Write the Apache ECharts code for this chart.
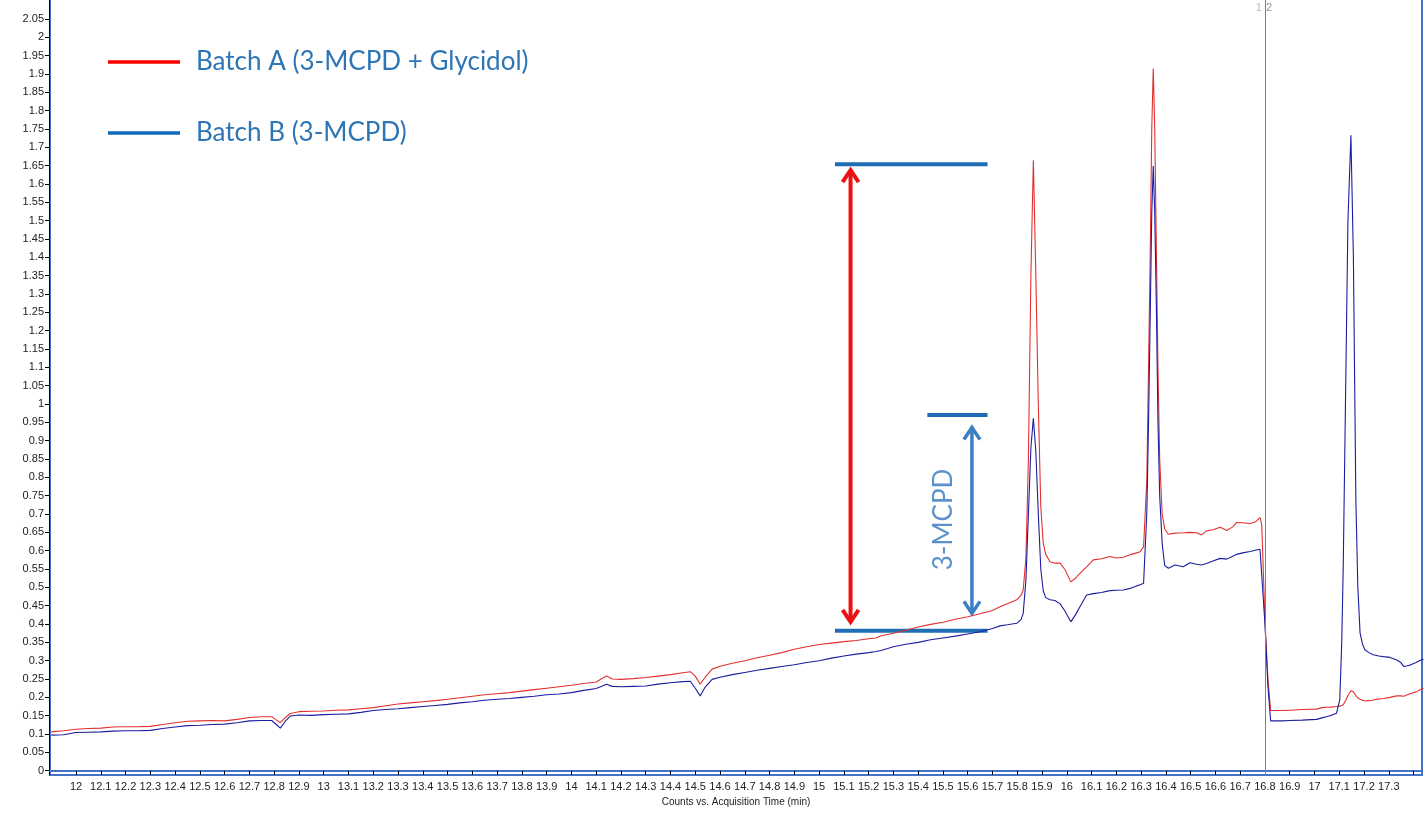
<!DOCTYPE html>
<html><head><meta charset="utf-8">
<script src="https://cdn.jsdelivr.net/npm/echarts@6/dist/echarts.min.js"></script>
<style>html,body{margin:0;padding:0;background:#fff}#c{width:1426px;height:830px}</style>
</head><body><div id="c"></div>
<script>
// acquisition time (min)
const times = [
  11.9, 11.95, 12.0, 12.05, 12.1, 12.15, 12.2, 12.25, 12.3, 12.35,
  12.4, 12.45, 12.5, 12.55, 12.6, 12.65, 12.7, 12.75, 12.79, 12.805,
  12.825, 12.845, 12.865, 12.9, 12.95, 13.0, 13.05, 13.1, 13.15, 13.2,
  13.25, 13.3, 13.35, 13.4, 13.45, 13.5, 13.55, 13.6, 13.65, 13.7,
  13.75, 13.8, 13.85, 13.9, 13.95, 14.0, 14.05, 14.1, 14.125, 14.142,
  14.165, 14.2, 14.25, 14.3, 14.35, 14.4, 14.45, 14.48, 14.5, 14.52,
  14.54, 14.568, 14.6, 14.65, 14.7, 14.75, 14.8, 14.85, 14.9, 14.95,
  15.0, 15.05, 15.1, 15.15, 15.2, 15.23, 15.25, 15.3, 15.35, 15.4,
  15.45, 15.5, 15.55, 15.6, 15.65, 15.7, 15.73, 15.76, 15.798, 15.815,
  15.824, 15.835, 15.845, 15.855, 15.865, 15.875, 15.885, 15.895, 15.905, 15.915,
  15.932, 15.952, 15.973, 15.993, 16.016, 16.035, 16.053, 16.08, 16.107, 16.14,
  16.174, 16.2, 16.228, 16.26, 16.282, 16.296, 16.31, 16.323, 16.33, 16.337,
  16.343, 16.349, 16.355, 16.362, 16.368, 16.375, 16.385, 16.395, 16.41, 16.437,
  16.47, 16.497, 16.524, 16.544, 16.564, 16.59, 16.619, 16.646, 16.67, 16.686,
  16.71, 16.74, 16.76, 16.78, 16.787, 16.8, 16.812, 16.823, 16.85, 16.874,
  16.9, 16.95, 17.008, 17.03, 17.048, 17.062, 17.075, 17.089, 17.102, 17.11,
  17.116, 17.125, 17.135, 17.147, 17.157, 17.167, 17.175, 17.184, 17.194, 17.204,
  17.22, 17.237, 17.26, 17.278, 17.305, 17.332, 17.347, 17.361, 17.375, 17.386,
  17.41, 17.43, 17.44
];
// Batch A (3-MCPD + Glycidol)
const batchA = [
  0.106, 0.109, 0.113, 0.115, 0.116, 0.119, 0.120, 0.120, 0.121, 0.126,
  0.131, 0.135, 0.136, 0.137, 0.136, 0.140, 0.145, 0.147, 0.147, 0.140,
  0.131, 0.145, 0.156, 0.161, 0.162, 0.163, 0.165, 0.166, 0.169, 0.172,
  0.177, 0.182, 0.185, 0.188, 0.191, 0.195, 0.199, 0.203, 0.207, 0.210,
  0.213, 0.217, 0.221, 0.225, 0.229, 0.233, 0.238, 0.242, 0.252, 0.258,
  0.250, 0.249, 0.251, 0.254, 0.258, 0.262, 0.267, 0.270, 0.258, 0.236,
  0.255, 0.277, 0.285, 0.293, 0.300, 0.308, 0.315, 0.322, 0.331, 0.338,
  0.344, 0.348, 0.352, 0.355, 0.360, 0.362, 0.368, 0.375, 0.383, 0.392,
  0.399, 0.405, 0.413, 0.420, 0.428, 0.437, 0.447, 0.455, 0.466, 0.478,
  0.493, 0.58, 0.85, 1.35, 1.665, 1.35, 1.0, 0.72, 0.62, 0.59,
  0.570, 0.566, 0.566, 0.548, 0.515, 0.525, 0.538, 0.556, 0.575, 0.578,
  0.584, 0.580, 0.582, 0.590, 0.594, 0.597, 0.611, 0.793, 1.1, 1.42,
  1.75, 1.915, 1.75, 1.40, 1.1, 0.85, 0.70, 0.66, 0.645, 0.648,
  0.649, 0.650, 0.649, 0.643, 0.654, 0.657, 0.664, 0.655, 0.665, 0.677,
  0.676, 0.674, 0.678, 0.690, 0.672, 0.41, 0.25, 0.164, 0.164, 0.164,
  0.165, 0.167, 0.168, 0.172, 0.173, 0.173, 0.174, 0.175, 0.176, 0.178,
  0.180, 0.190, 0.205, 0.218, 0.215, 0.205, 0.198, 0.195, 0.192, 0.190,
  0.191, 0.193, 0.196, 0.197, 0.200, 0.204, 0.204, 0.203, 0.207, 0.210,
  0.215, 0.222, 0.224
];
// Batch B (3-MCPD)
const batchB = [
  0.097, 0.098, 0.104, 0.105, 0.106, 0.108, 0.109, 0.109, 0.110, 0.115,
  0.119, 0.123, 0.124, 0.126, 0.127, 0.131, 0.136, 0.137, 0.137, 0.128,
  0.116, 0.135, 0.149, 0.152, 0.151, 0.153, 0.154, 0.155, 0.159, 0.164,
  0.167, 0.169, 0.172, 0.175, 0.178, 0.181, 0.185, 0.188, 0.192, 0.195,
  0.197, 0.200, 0.203, 0.207, 0.209, 0.213, 0.219, 0.224, 0.231, 0.236,
  0.230, 0.229, 0.230, 0.231, 0.236, 0.240, 0.243, 0.244, 0.225, 0.204,
  0.228, 0.249, 0.255, 0.262, 0.268, 0.274, 0.279, 0.284, 0.289, 0.295,
  0.300, 0.307, 0.313, 0.318, 0.322, 0.325, 0.328, 0.338, 0.345, 0.350,
  0.357, 0.362, 0.367, 0.373, 0.379, 0.388, 0.395, 0.398, 0.402, 0.412,
  0.429, 0.52, 0.70, 0.88, 0.961, 0.87, 0.70, 0.55, 0.49, 0.472,
  0.466, 0.464, 0.455, 0.435, 0.406, 0.425, 0.447, 0.479, 0.483, 0.486,
  0.491, 0.492, 0.493, 0.498, 0.504, 0.507, 0.511, 0.702, 0.95, 1.25,
  1.52, 1.649, 1.52, 1.25, 0.95, 0.75, 0.62, 0.56, 0.552, 0.561,
  0.556, 0.567, 0.563, 0.561, 0.565, 0.572, 0.579, 0.577, 0.585, 0.590,
  0.594, 0.598, 0.601, 0.604, 0.600, 0.40, 0.23, 0.136, 0.136, 0.136,
  0.137, 0.138, 0.140, 0.144, 0.147, 0.150, 0.153, 0.157, 0.193, 0.35,
  0.556, 1.0, 1.5, 1.733, 1.4, 0.738, 0.50, 0.375, 0.345, 0.329,
  0.322, 0.316, 0.313, 0.311, 0.309, 0.302, 0.296, 0.284, 0.286, 0.288,
  0.295, 0.302, 0.304
];
// tick values
const yTicks = [0, 0.05, 0.1, 0.15, 0.2, 0.25, 0.3, 0.35, 0.4, 0.45, 0.5, 0.55, 0.6, 0.65, 0.7, 0.75, 0.8, 0.85, 0.9, 0.95,
  1, 1.05, 1.1, 1.15, 1.2, 1.25, 1.3, 1.35, 1.4, 1.45, 1.5, 1.55, 1.6, 1.65, 1.7, 1.75, 1.8, 1.85, 1.9, 1.95, 2, 2.05];
const xLabelTicks = [12, 12.1, 12.2, 12.3, 12.4, 12.5, 12.6, 12.7, 12.8, 12.9, 13, 13.1, 13.2, 13.3, 13.4, 13.5, 13.6, 13.7, 13.8, 13.9,
  14, 14.1, 14.2, 14.3, 14.4, 14.5, 14.6, 14.7, 14.8, 14.9, 15, 15.1, 15.2, 15.3, 15.4, 15.5, 15.6, 15.7, 15.8, 15.9,
  16, 16.1, 16.2, 16.3, 16.4, 16.5, 16.6, 16.7, 16.8, 16.9, 17, 17.1, 17.2, 17.3];
const xTicks = xLabelTicks.concat([17.4]);
// annotations (data coordinates)
const refBars = [[15.064, 15.680, 1.654], [15.437, 15.680, 0.970], [15.064, 15.680, 0.382]]; // [tStart, tEnd, level]
const arrows = [[15.127, 0.406, 1.638], [15.617, 0.429, 0.936]]; // [t, lowTip, highTip]
const mcpdText = [[15.504, 0.685, '3-MCPD']];
const markerTime = 16.8;
const markerLabels = [[16.8, 2.08, '1'], [16.8, 2.08, '2']];
const seriesNames = ['Batch A (3-MCPD + Glycidol)', 'Batch B (3-MCPD)'];

const arrowStyles = [
  {color: '#ee1111', width: 4, hw: 8, hh: 12},
  {color: '#3a7fc1', width: 3.5, hw: 8, hh: 12}
];
const markerLabelStyles = [
  {position: 'left', distance: 3, color: '#aaa'},
  {position: 'right', distance: 1, color: '#777'}
];

const chart = echarts.init(document.getElementById('c'), null, {renderer: 'canvas'});
const axisFont = 'Liberation Sans';

chart.setOption({
  animation: false,
  grid: {left: 50, right: 4, top: -2, bottom: 55, outerBoundsMode: 'none', containLabel: false,
    show: true, borderColor: '#4472c4', borderWidth: 2, backgroundColor: 'transparent'},
  legend: {
    orient: 'vertical', left: 108, top: 47, padding: 0, itemGap: 41,
    itemWidth: 72, itemHeight: 3.5, icon: 'rect', selectedMode: false,
    textStyle: {fontFamily: 'Lato', fontSize: 26, color: '#2e75b6', lineHeight: 30, padding: [0, 0, 0, 11]},
    data: [
      {name: seriesNames[0], itemStyle: {color: '#ff0000'}},
      {name: seriesNames[1], itemStyle: {color: '#0f6cbd'}}
    ]
  },
  xAxis: {
    type: 'value', min: 11.895, max: 17.434,
    name: 'Counts vs. Acquisition Time (min)', nameLocation: 'middle', nameGap: 22,
    nameTextStyle: {fontSize: 10, color: '#222', fontFamily: axisFont},
    axisLine: {show: true, lineStyle: {color: '#4472c4', width: 2}},
    axisTick: {show: true, length: 4, customValues: xTicks, lineStyle: {color: '#000'}},
    axisLabel: {customValues: xLabelTicks, margin: 6, fontSize: 11, color: '#222', fontFamily: axisFont},
    splitLine: {show: false}
  },
  yAxis: {
    type: 'value', min: -0.0117, max: 2.1072, offset: 1,
    axisLine: {show: true, lineStyle: {color: '#000', width: 1}},
    axisTick: {show: true, length: 4, customValues: yTicks, lineStyle: {color: '#000'}},
    axisLabel: {customValues: yTicks, margin: 5, fontSize: 11, color: '#222', fontFamily: axisFont},
    splitLine: {show: false}
  },
  series: [
    {
      name: seriesNames[0], type: 'line', showSymbol: false, symbol: 'none',
      data: times.map((t, i) => [t, batchA[i]]),
      lineStyle: {color: '#e3302f', width: 1.1}, itemStyle: {color: '#e3302f'},
      markLine: {
        silent: true, symbol: 'none', label: {show: false},
        lineStyle: {color: '#808080', width: 1, type: 'solid'},
        data: [{xAxis: markerTime}]
      }
    },
    {
      name: seriesNames[1], type: 'line', showSymbol: false, symbol: 'none',
      data: times.map((t, i) => [t, batchB[i]]),
      lineStyle: {color: '#1c1ca0', width: 1.1}, itemStyle: {color: '#1c1ca0'}
    },
    {
      type: 'custom', name: 'refBars', silent: true, encode: {x: [0, 1], y: 2},
      data: refBars,
      renderItem: function (params, api) {
        const p1 = api.coord([api.value(0), api.value(2)]);
        const p2 = api.coord([api.value(1), api.value(2)]);
        return {type: 'line', shape: {x1: p1[0], y1: p1[1], x2: p2[0], y2: p2[1]},
          style: {stroke: '#1f6db5', lineWidth: 4}};
      }
    },
    {
      type: 'custom', name: 'arrows', silent: true, encode: {x: 0, y: [1, 2]},
      data: arrows,
      renderItem: function (params, api) {
        const x = api.value(0);
        const pLo = api.coord([x, api.value(1)]);
        const pHi = api.coord([x, api.value(2)]);
        const st = arrowStyles[params.dataIndex];
        const style = {stroke: st.color, lineWidth: st.width, fill: null, lineJoin: 'miter', lineCap: 'butt'};
        return {type: 'group', children: [
          {type: 'line', shape: {x1: pLo[0], y1: pLo[1] - 2, x2: pHi[0], y2: pHi[1] + 2}, style: style},
          {type: 'polyline', shape: {points: [[pHi[0] - st.hw, pHi[1] + st.hh], [pHi[0], pHi[1]], [pHi[0] + st.hw, pHi[1] + st.hh]]}, style: style},
          {type: 'polyline', shape: {points: [[pLo[0] - st.hw, pLo[1] - st.hh], [pLo[0], pLo[1]], [pLo[0] + st.hw, pLo[1] - st.hh]]}, style: style}
        ]};
      }
    },
    {
      type: 'scatter', silent: true, symbolSize: 0,
      data: mcpdText.map(d => ({value: [d[0], d[1]], label: {formatter: d[2]}})),
      label: {show: true, position: 'inside', rotate: 90, fontFamily: 'Lato', fontSize: 26, color: '#3577bb'}
    },
    {
      type: 'scatter', silent: true, symbolSize: 0,
      data: markerLabels.map((d, i) => ({value: [d[0], d[1]], label: {formatter: d[2], position: markerLabelStyles[i].position, distance: markerLabelStyles[i].distance, color: markerLabelStyles[i].color}})),
      label: {show: true, fontFamily: axisFont, fontSize: 11}
    }
  ]
});
</script>
</body></html>
